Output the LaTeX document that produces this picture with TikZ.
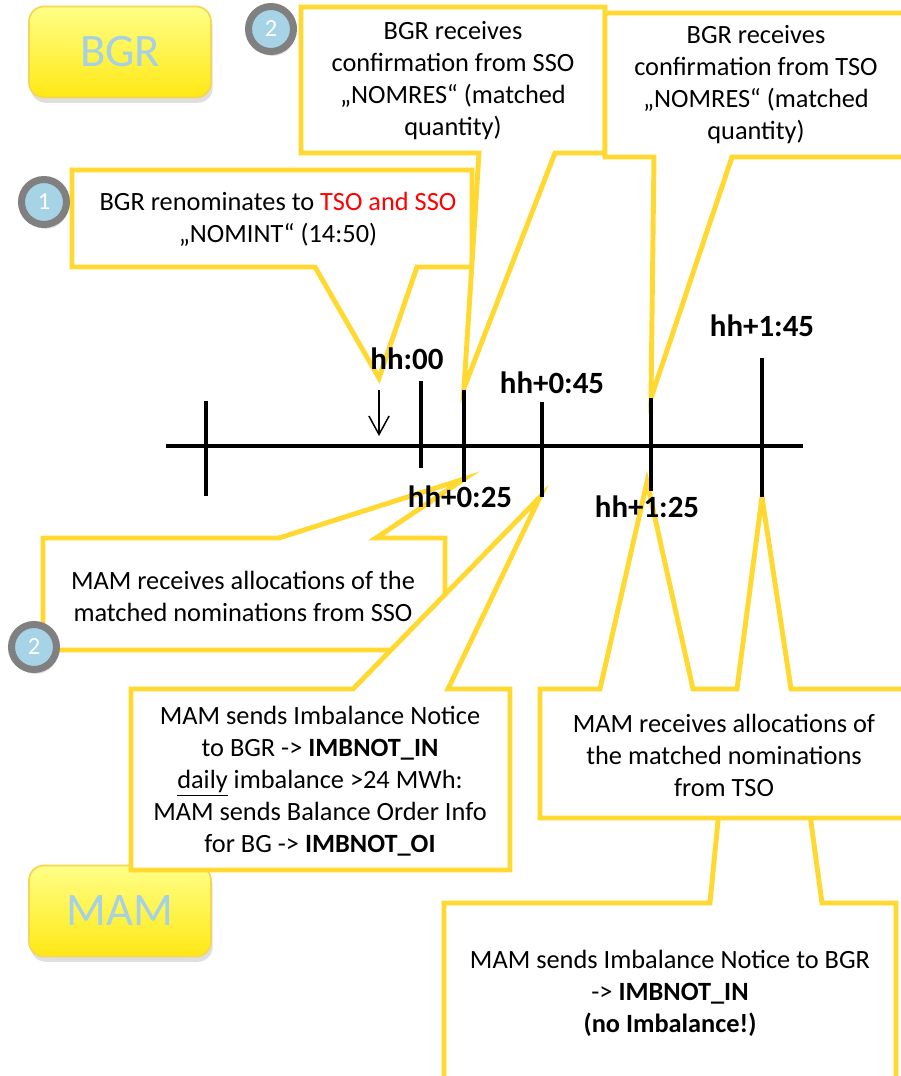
\documentclass[tikz,border=0pt]{standalone}
\usepackage{fontspec}
\setmainfont{Carlito}
\usetikzlibrary{shadows,arrows.meta}
\definecolor{bordery}{RGB}{255,217,47}
\definecolor{badgeblue}{RGB}{166,211,230}
\definecolor{badgegray}{RGB}{128,128,128}
\definecolor{boxtop}{RGB}{255,255,135}
\definecolor{boxbot}{RGB}{255,232,20}
\definecolor{boxline}{RGB}{245,215,80}
\definecolor{boxtext}{RGB}{166,208,228}
\definecolor{redtext}{RGB}{255,0,0}
\newcommand{\bodyfont}{\fontsize{15}{18.2}\selectfont}
\newcommand{\tickfont}{\fontsize{17.6}{20}\selectfont\bfseries}
\newcommand{\rolefont}{\fontsize{26.5}{30}\selectfont}
\newcommand{\badgefont}{\fontsize{14}{16}\selectfont}

\begin{document}
\begin{tikzpicture}[x=0.02cm,y=-0.02cm]
\tikzstyle{every node}+=[inner sep=0pt]
\tikzstyle{bubble}=[draw=bordery, line width=2.8pt, fill=white, line join=miter]
\tikzstyle{bubbletext}=[font=\bodyfont, align=center]
\tikzstyle{rolebox}=[rectangle, rounded corners=0.3cm, draw=boxline, line width=1pt, top color=boxtop, bottom color=boxbot, minimum width=3.64cm, minimum height=1.82cm, text=boxtext, font=\rolefont, drop shadow={shadow xshift=1pt, shadow yshift=-3pt, opacity=0.25}]
\tikzstyle{badge}=[circle, fill=badgeblue, draw=badgegray, line width=4pt, minimum size=0.9cm, text=white, font=\badgefont, drop shadow={shadow xshift=1pt, shadow yshift=-2.5pt, opacity=0.25}]
\tikzstyle{ticklabel}=[font=\tickfont]
\useasboundingbox (0,0) rectangle (901,1076);
\fill [white] (0,0) rectangle (901,1076);
\clip (0,0) rectangle (901,1076);
\node (bgr) [rolebox] at (120,52) {BGR};
\node (mam) [rolebox] at (120,911) {MAM};
\draw [bubble] (444,903) -- (710,903) -- (720,800) -- (808,800) -- (822,903) -- (896,903) -- (896,1100) -- (444,1100) -- cycle;
\node (noimb) [bubbletext] at (670,993) {MAM sends Imbalance Notice to BGR\\-> \textbf{IMBNOT\_IN}\\\textbf{(no Imbalance!)}};
\draw [bubble] (540,689) -- (600,689) -- (647,482) -- (693,689) -- (737,689) -- (762,497) -- (791,689) -- (920,689) -- (920,818) -- (540,818) -- cycle;
\node (tsoalloc) [bubbletext] at (724,755) {MAM receives allocations of\\the matched nominations\\from TSO};
\draw [bubble] (72,170) -- (472,170) -- (472,267) -- (417,267) -- (379,378) -- (315,267) -- (72,267) -- cycle;
\node (renom) [bubbletext] at (278,219) {BGR renominates to \textcolor{redtext}{TSO and SSO}\\„NOMINT“ (14:50)};
\draw [bubble] (301,7) -- (605,7) -- (605,153) -- (555,153) -- (464,388) -- (479,153) -- (301,153) -- cycle;
\node (ssoconf) [bubbletext] at (453,81) {BGR receives\\confirmation from SSO\\„NOMRES“ (matched\\quantity)};
\draw [bubble] (605,13) -- (920,13) -- (920,157) -- (732,157) -- (651,398) -- (654,157) -- (605,157) -- cycle;
\node (tsoconf) [bubbletext] at (756,85) {BGR receives\\confirmation from TSO\\„NOMRES“ (matched\\quantity)};
\draw [bubble] (43,538) -- (279,538) -- (464,479) -- (376,538) -- (445,538) -- (445,650) -- (43,650) -- cycle;
\node (ssoalloc) [bubbletext] at (243,596) {MAM receives allocations of the\\matched nominations from SSO};
\draw [bubble] (131,689) -- (353,689) -- (540,497) -- (448,689) -- (510,689) -- (510,870) -- (131,870) -- cycle;
\node (imbnot) [bubbletext] at (320,781) {MAM sends Imbalance Notice\\to BGR -> \textbf{IMBNOT\_IN}\\\underline{daily} imbalance >24 MWh:\\MAM sends Balance Order Info\\for BG -> \textbf{IMBNOT\_OI}};
\node (badgeA) [badge] at (44,202) {1};
\node (badgeB) [badge] at (271,29) {2};
\node (badgeC) [badge] at (34,647) {2};
\draw [black, line width=2.3pt] (166,446) -- (803,446);
\draw [black, line width=1.8pt] (206,401) -- (206,496);
\draw [black, line width=1.8pt] (421,381) -- (421,468);
\draw [black, line width=1.8pt] (464,390) -- (464,482);
\draw [black, line width=1.8pt] (542,402) -- (542,497);
\draw [black, line width=1.8pt] (651,398) -- (651,491);
\draw [black, line width=1.8pt] (762,358) -- (762,497);
\coordinate (arrtop) at (379,390);
\coordinate (arrbot) at (379,436);
\draw [black, line width=0.85pt, -{Straight Barb[length=10.5pt, width=11.5pt]}] (arrtop) -- (arrbot);
\node (hh00) [ticklabel] at (407,359) {hh:00};
\node (hh045) [ticklabel] at (552,383) {hh+0:45};
\node (hh145) [ticklabel] at (762,326) {hh+1:45};
\node (hh025) [ticklabel] at (460,497) {hh+0:25};
\node (hh125) [ticklabel] at (647,507) {hh+1:25};
\end{tikzpicture}
\end{document}
